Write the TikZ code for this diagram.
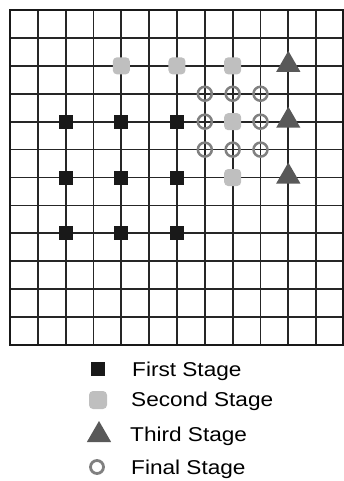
\documentclass[tikz,border=0pt]{standalone}
\usepackage{fontspec}
\setmainfont[FakeStretch=1.13]{Liberation Sans}
\usepackage{tikz}
\usetikzlibrary{shapes.geometric}
\tikzset{every node/.append style={font=\fontsize{20}{24}\selectfont}}
\tikzset{
    firstmark/.style={fill=black!90, minimum size=14pt, inner sep=0pt},
    secondmark/.style={fill=black!25, rounded corners=4pt, minimum size=17pt, inner sep=0pt},
    thirdmark/.style={regular polygon, regular polygon sides=3, fill=black!65, minimum size=28pt, inner sep=0pt},
    finalmark/.style={circle, draw=black!50, line width=2.5pt, minimum size=14pt, inner sep=0pt},
    gridline/.style={line width=1.8pt, black!85}
}

\begin{document}
\begin{tikzpicture}[x=1pt, y=-1pt]
    \useasboundingbox (0,0) rectangle (344,481);
    % the grid
    \foreach \k in {1,...,11} {
        \draw[gridline] ({10+27.83*\k},10) -- ({10+27.83*\k},345);
        \draw[gridline] (10,{10+27.92*\k}) -- (344,{10+27.92*\k});
    }
    \draw[line width=2.8pt, black!90] (10,10) rectangle (343.5,345);
    % markers on the crossings
    \foreach \i in {2,4,6}
        \foreach \j in {4,6,8}
            \node[firstmark] (f\i\j) at ({10+27.83*\i},{10+27.92*\j}) {};
    \foreach \i/\j in {7/3, 8/3, 9/3, 7/4, 9/4, 7/5, 8/5, 9/5}
        \node[finalmark] (c\i\j) at ({10+27.83*\i},{10+27.92*\j}) {};
    \foreach \i/\j in {4/2, 6/2, 8/2, 8/4, 8/6}
        \node[secondmark] (s\i\j) at ({10+27.83*\i},{10+27.92*\j}) {};
    \foreach \j in {2,4,6}
        \node[thirdmark] (t\j) at (288.3,{10+27.92*\j-1}) {};
    % legend
    \node[firstmark] (lfirst) at (97.5,369) {};
    \node[secondmark, minimum size=18pt] (lsecond) at (98,400) {};
    \node[thirdmark] (lthird) at (99,435) {};
    \node[finalmark, minimum size=13pt, line width=2.8pt] (lfinal) at (97,467) {};
    \node[anchor=base west, inner sep=0pt] (tfirst) at (132,376) {First Stage};
    \node[anchor=base west, inner sep=0pt] (tsecond) at (131,406) {Second Stage};
    \node[anchor=base west, inner sep=0pt] (tthird) at (130,441) {Third Stage};
    \node[anchor=base west, inner sep=0pt] (tfinal) at (131,474) {Final Stage};
\end{tikzpicture}
\end{document}
